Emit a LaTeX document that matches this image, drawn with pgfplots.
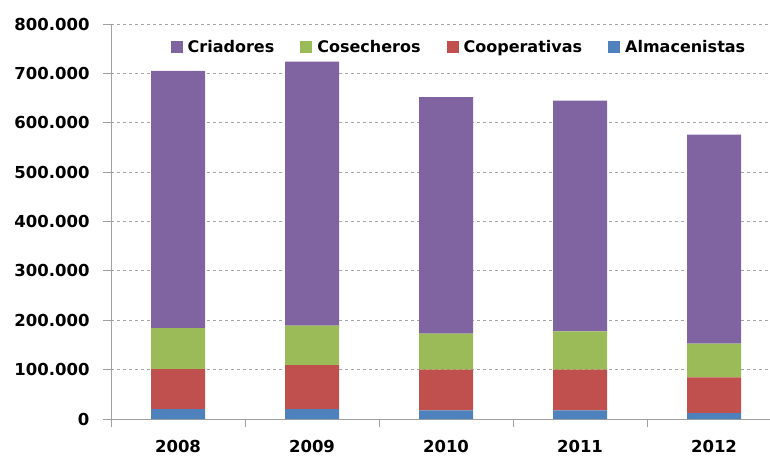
\documentclass[border=0pt]{standalone}
\usepackage{fontspec}
\setmainfont{DejaVu Sans}
\usepackage{pgfplots}
\pgfplotsset{compat=1.18}
\definecolor{cAlm}{HTML}{4F81BD}
\definecolor{cCoo}{HTML}{C0504D}
\definecolor{cCos}{HTML}{9BBB59}
\definecolor{cCri}{HTML}{8064A2}
\definecolor{axgray}{HTML}{A0A0A0}
\begin{document}
\begin{tikzpicture}
\useasboundingbox (0,0) rectangle (770pt,458pt);
\begin{axis}[
  at={(111pt,39pt)}, anchor=south west,
  scale only axis, width=659pt, height=395pt,
  xmin=-0.5, xmax=4.418, ymin=0, ymax=800000,
  ybar stacked, bar width=54pt,
  axis x line*=bottom, axis y line*=left,
  axis line style={draw=axgray, line width=0.9pt},
  xtick={-0.5,0.5,1.5,2.5,3.5}, xticklabels={},
  extra x ticks={0,1,2,3,4},
  extra x tick labels={2008,2009,2010,2011,2012},
  extra x tick style={major tick length=0pt, grid=none, xticklabel style={yshift=-18pt}},
  ytick={0,100000,200000,300000,400000,500000,600000,700000,800000},
  scaled y ticks=false,
  /pgf/number format/.cd, fixed, 1000 sep={.}, assume math mode=true,
  /pgfplots/.cd,
  tick align=outside, major tick length=8pt,
  tick style={draw=axgray, line width=0.9pt},
  ytick style={draw=axgray, line width=0.9pt},
  ymajorgrids, grid style={dashed, draw=gray!70, line width=0.8pt},
  tick label style={font=\fontsize{16.5}{19}\selectfont\bfseries, text=black},
  yticklabel style={xshift=-10pt},
  legend style={at={(0.528,0.9425)}, anchor=center, draw=none, fill=none,
    font=\fontsize{16}{19}\selectfont\bfseries,
    /tikz/every odd column/.append style={column sep=3pt},
    /tikz/every even column/.append style={column sep=24pt}},
  legend columns=-1,
  reverse legend,
  legend image code/.code={\draw[#1,draw=none] (0pt,-6pt) rectangle (12pt,6pt);},
]
\addplot[fill=cAlm, draw=none] coordinates {(0,20000) (1,20000) (2,17500) (3,17500) (4,12000)};
\addlegendentry{Almacenistas}
\addplot[fill=cCoo, draw=none] coordinates {(0,81000) (1,89000) (2,82500) (3,82500) (4,72500)};
\addlegendentry{Cooperativas}
\addplot[fill=cCos, draw=none] coordinates {(0,83000) (1,80000) (2,73000) (3,77500) (4,68000)};
\addlegendentry{Cosecheros}
\addplot[fill=cCri, draw=none] coordinates {(0,521000) (1,535000) (2,479000) (3,467500) (4,423500)};
\addlegendentry{Criadores}
\end{axis}
\end{tikzpicture}
\end{document}
